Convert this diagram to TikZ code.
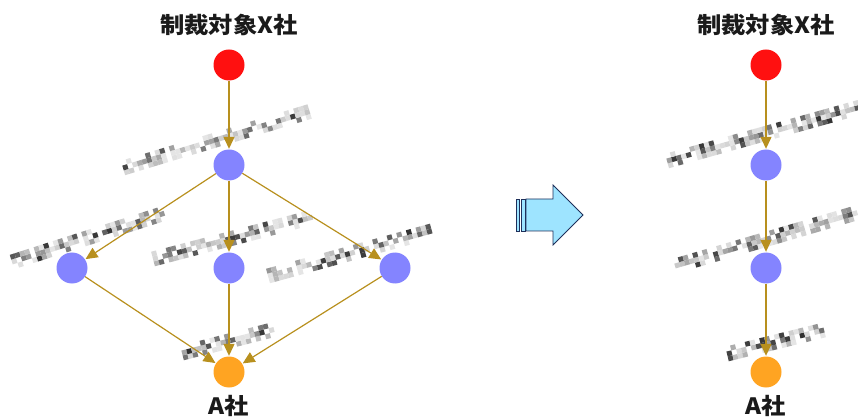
\documentclass[tikz,border=0pt]{standalone}
\usepackage{fontspec}
\newfontfamily\cjk{Noto Sans CJK JP}
\usetikzlibrary{arrows.meta}
\definecolor{nred}{HTML}{FF1010}
\definecolor{nblue}{HTML}{8484FF}
\definecolor{norange}{HTML}{FFA422}
\definecolor{edgec}{HTML}{B8901E}
\definecolor{arrfill}{HTML}{9EE4FF}
\definecolor{arrline}{HTML}{1E2F5A}
\definecolor{txt}{HTML}{1A1A1A}
\tikzset{
  dot/.style={circle,minimum size=31pt,inner sep=0pt,draw=none},
  rdot/.style={dot,fill=nred},
  bdot/.style={dot,fill=nblue},
  odot/.style={dot,fill=norange},
  title/.style={font=\cjk\bfseries\fontsize{22.5}{24}\selectfont,text=txt,inner sep=0pt,xscale=1.08,transform shape},
  edge/.style={draw=edgec,line width=1.2pt,-{Triangle[length=12pt,width=11pt]},shorten >=0.5pt},
}
\newcommand\pixband[5]{%
  \pgfmathsetseed{#5}%
  \pgfmathsetmacro\pbang{atan2(-(#4-#2),#3-#1)}%
  \pgfmathsetmacro\pblen{veclen(#3-#1,#4-#2)}%
  \pgfmathtruncatemacro\pbn{\pblen/5}%
  \begin{scope}[shift={(#1,#2)},rotate=\pbang]
    \foreach \i in {0,...,\pbn}{
      \foreach \j in {-1,0,1}{
        \pgfmathsetmacro\r{rnd}
        \pgfmathsetmacro\w{ifthenelse(\j==0,0.15,0.5)}
        \pgfmathsetmacro\d{max(\r-\w,0.001)/(1-\w)}
        \pgfmathtruncatemacro\g{ifthenelse(\r<\w,0,10+72*\d*\d)}
        \ifnum\g>0
          \fill[black!\g] (\i*5pt, \j*5pt-2.5pt) rectangle ++(5pt,5pt);
        \fi
      }
    }
  \end{scope}}
\begin{document}
\begin{tikzpicture}[x=1pt,y=-1pt]
\useasboundingbox (0,0) rectangle (858,419);
% pixelated labels
\pixband{123}{168}{308}{112}{11}
\pixband{12}{262}{162}{214}{23}
\pixband{153}{259}{317}{216}{37}
\pixband{268}{276}{428}{232}{41}
\pixband{182}{353}{272}{330}{53}
\pixband{667}{161}{857}{108}{67}
\pixband{675}{266}{856}{213}{71}
\pixband{727}{354}{820}{331}{89}
% left graph
\node[title] (t1) at (229,25) {制裁対象X社};
\node[rdot] (r1) at (229,65) {};
\node[bdot] (b1) at (229,165) {};
\node[bdot] (bl) at (72,268) {};
\node[bdot] (bm) at (229,268) {};
\node[bdot] (br) at (395,268) {};
\node[odot] (o1) at (229,372) {};
\node[title] (a1) at (229,406) {A社};
\draw[edge] (r1) -- (b1);
\draw[edge] (b1) -- (bl);
\draw[edge] (b1) -- (bm);
\draw[edge] (b1) -- (br);
\draw[edge] (bl) -- (o1);
\draw[edge] (bm) -- (o1);
\draw[edge] (br) -- (o1);
% right graph
\node[title] (t2) at (766,25) {制裁対象X社};
\node[rdot] (r2) at (766,65) {};
\node[bdot] (b2) at (766,165) {};
\node[bdot] (b3) at (766,268) {};
\node[odot] (o2) at (766,372) {};
\node[title] (a2) at (766,406) {A社};
\draw[edge] (r2) -- (b2);
\draw[edge] (b2) -- (b3);
\draw[edge] (b3) -- (o2);
% block arrow
\draw[arrline,line width=0.8pt,fill=arrfill,line join=miter]
  (526,199) -- (553,199) -- (553,185) -- (583,215) -- (553,245) -- (553,231) -- (526,231) -- cycle;
\draw[arrline,line width=0.7pt,fill=arrfill] (516.5,199) rectangle (519.5,231);
\draw[arrline,line width=0.7pt,fill=arrfill] (521,199) rectangle (525,231);
\end{tikzpicture}
\end{document}
